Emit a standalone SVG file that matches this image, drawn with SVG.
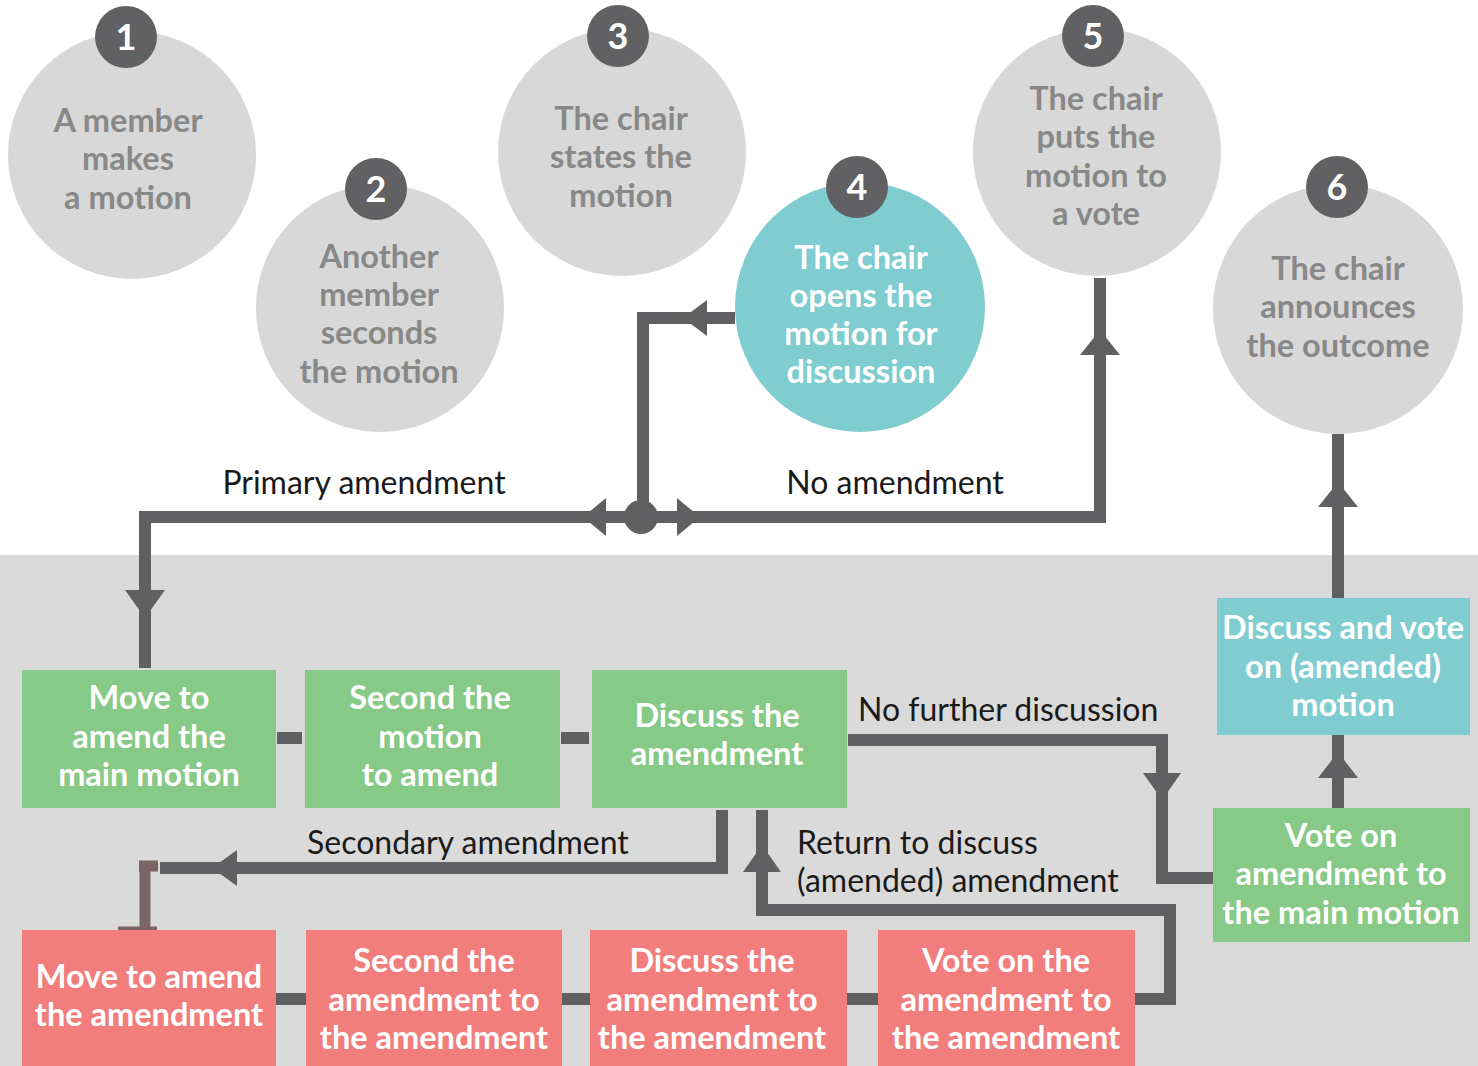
<svg xmlns="http://www.w3.org/2000/svg" width="1478" height="1066" viewBox="0 0 1478 1066">
<defs>
<style>
.circ{fill:#d8d8d8}
.badge{fill:#616163}
.num{font-family:Lato,"Open Sans",sans-serif;font-weight:bold;font-size:36px;fill:#ffffff;text-anchor:middle}
.ct{font-family:Lato,"Open Sans",sans-serif;font-weight:bold;font-size:32.5px;fill:#888888;text-anchor:middle}
.ctw{font-family:Lato,"Open Sans",sans-serif;font-weight:bold;font-size:32.5px;fill:#ffffff;text-anchor:middle}
.bt{font-family:Lato,"Open Sans",sans-serif;font-weight:bold;font-size:32.5px;fill:#ffffff;text-anchor:middle}
.lbl{font-family:Lato,"Open Sans",sans-serif;font-size:32px;fill:#1a1a1a}
.green{fill:#87c986}
.red{fill:#f17e7c}
.teal{fill:#7fcdd0}
.ln{fill:none;stroke:#606062;stroke-width:12;stroke-linejoin:miter}
.ah{fill:#606062}
</style>
</defs>
<rect x="0" y="0" width="1478" height="1066" fill="#ffffff"/>
<rect x="0" y="555" width="1478" height="511" fill="#dadada"/>

<g id="connectors">
<path class="ln" d="M735,318 H643 V517"/>
<polygon class="ah" points="683,318 707,300 707,336"/>
<path class="ln" d="M145,668 V517 H1100 V278"/>
<circle class="ah" cx="641" cy="517" r="17"/>
<polygon class="ah" points="583,517 606,498 606,536"/>
<polygon class="ah" points="700,517 677,498 677,536"/>
<polygon class="ah" points="145,618 125,590 165,590"/>
<polygon class="ah" points="1100,330 1080,355 1120,355"/>
<path class="ln" d="M1338,434 V598"/>
<polygon class="ah" points="1338,482 1318,507 1358,507"/>
<path class="ln" d="M1338,735 V808"/>
<polygon class="ah" points="1338,752 1318,778 1358,778"/>
<path class="ln" d="M848,740 H1162 V878 H1213"/>
<polygon class="ah" points="1162,800 1143,773 1181,773"/>
<path class="ln" d="M722,810 V868 H160"/>
<polygon class="ah" points="212,868 237,850 237,886"/>
<path d="M145,932 V868 M118,932 H157 M139,866 H158" fill="none" stroke="#7b6466" stroke-width="11"/>
<path class="ln" d="M1135,999 H1170 V910 H762 V810"/>
<polygon class="ah" points="762,845 743,872 781,872"/>
<path class="ln" d="M277,738 H302 M561,738 H589"/>
<path class="ln" d="M276,999 H306 M562,999 H590 M847,999 H878"/>
</g>

<g id="n1"><circle class="circ" cx="132" cy="155" r="124"/><circle class="badge" cx="126" cy="37" r="31"/><text class="num" x="126" y="50">1</text>
<text class="ct" x="128" y="132">A member</text><text class="ct" x="128" y="170">makes</text><text class="ct" x="128" y="209">a motion</text></g>
<g id="n2"><circle class="circ" cx="380" cy="308" r="124"/><circle class="badge" cx="376" cy="189" r="31"/><text class="num" x="376" y="202">2</text>
<text class="ct" x="379" y="268">Another</text><text class="ct" x="379" y="306">member</text><text class="ct" x="379" y="344">seconds</text><text class="ct" x="379" y="383">the motion</text></g>
<g id="n3"><circle class="circ" cx="622" cy="152" r="124"/><circle class="badge" cx="618" cy="36" r="31"/><text class="num" x="618" y="49">3</text>
<text class="ct" x="621" y="130">The chair</text><text class="ct" x="621" y="168">states the</text><text class="ct" x="621" y="207">motion</text></g>
<g id="n4"><circle class="teal" cx="860" cy="307" r="125"/><circle class="badge" cx="857" cy="187" r="31"/><text class="num" x="857" y="200">4</text>
<text class="ctw" x="861" y="269">The chair</text><text class="ctw" x="861" y="307">opens the</text><text class="ctw" x="861" y="345">motion for</text><text class="ctw" x="861" y="383">discussion</text></g>
<g id="n5"><circle class="circ" cx="1097" cy="152" r="124"/><circle class="badge" cx="1093" cy="36" r="31"/><text class="num" x="1093" y="49">5</text>
<text class="ct" x="1096" y="110">The chair</text><text class="ct" x="1096" y="148">puts the</text><text class="ct" x="1096" y="187">motion to</text><text class="ct" x="1096" y="225">a vote</text></g>
<g id="n6"><circle class="circ" cx="1338" cy="309" r="125"/><circle class="badge" cx="1337" cy="187" r="31"/><text class="num" x="1337" y="200">6</text>
<text class="ct" x="1338" y="280">The chair</text><text class="ct" x="1338" y="318">announces</text><text class="ct" x="1338" y="357">the outcome</text></g>

<g id="labels">
<text class="lbl" x="364" y="494" text-anchor="middle">Primary amendment</text>
<text class="lbl" x="895" y="494" text-anchor="middle">No amendment</text>
<text class="lbl" x="858" y="721">No further discussion</text>
<text class="lbl" x="307" y="854">Secondary amendment</text>
<text class="lbl" x="797" y="854">Return to discuss</text>
<text class="lbl" x="797" y="892">(amended) amendment</text>
</g>

<g id="g1"><rect class="green" x="22" y="670" width="254" height="138"/><text class="bt" x="149" y="709">Move to</text><text class="bt" x="149" y="748">amend the</text><text class="bt" x="149" y="786">main motion</text></g>
<g id="g2"><rect class="green" x="305" y="670" width="255" height="138"/><text class="bt" x="430" y="709">Second the</text><text class="bt" x="430" y="748">motion</text><text class="bt" x="430" y="786">to amend</text></g>
<g id="g3"><rect class="green" x="592" y="670" width="255" height="138"/><text class="bt" x="717" y="727">Discuss the</text><text class="bt" x="717" y="765">amendment</text></g>
<g id="t1"><rect class="teal" x="1217" y="598" width="253" height="137"/><text class="bt" x="1343" y="639">Discuss and vote</text><text class="bt" x="1343" y="678">on (amended)</text><text class="bt" x="1343" y="716">motion</text></g>
<g id="g4"><rect class="green" x="1213" y="808" width="257" height="134"/><text class="bt" x="1341" y="847">Vote on</text><text class="bt" x="1341" y="885">amendment to</text><text class="bt" x="1341" y="924">the main motion</text></g>

<g id="r1"><rect class="red" x="22" y="930" width="254" height="136"/><text class="bt" x="149" y="988">Move to amend</text><text class="bt" x="149" y="1026">the amendment</text></g>
<g id="r2"><rect class="red" x="306" y="930" width="256" height="136"/><text class="bt" x="434" y="972">Second the</text><text class="bt" x="434" y="1011">amendment to</text><text class="bt" x="434" y="1049">the amendment</text></g>
<g id="r3"><rect class="red" x="590" y="930" width="257" height="136"/><text class="bt" x="712" y="972">Discuss the</text><text class="bt" x="712" y="1011">amendment to</text><text class="bt" x="712" y="1049">the amendment</text></g>
<g id="r4"><rect class="red" x="878" y="930" width="257" height="136"/><text class="bt" x="1006" y="972">Vote on the</text><text class="bt" x="1006" y="1011">amendment to</text><text class="bt" x="1006" y="1049">the amendment</text></g>
</svg>
